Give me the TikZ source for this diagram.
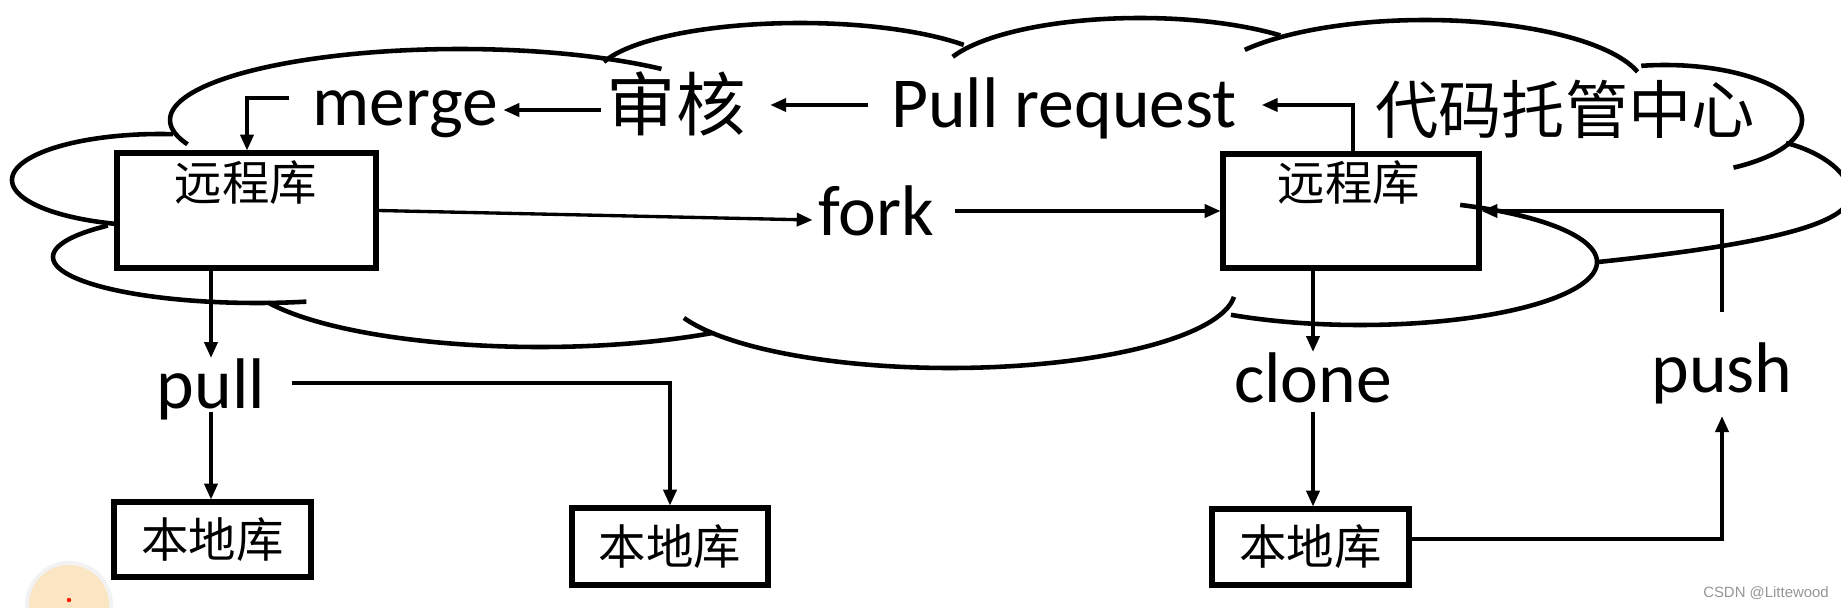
\documentclass[tikz,border=0pt]{standalone}
\usepackage{fontspec}
\usetikzlibrary{arrows.meta,calc}
\newfontfamily\calfont{Carlito}
\newfontfamily\cjkfont{Noto Sans CJK SC}
\newfontfamily\wmfont{Liberation Sans}
\definecolor{avatarfill}{RGB}{251,230,196}
\definecolor{avatarring}{RGB}{242,242,242}
\definecolor{wmgray}{RGB}{150,150,150}
\newcommand\cloudlobe[6]{\draw[cloudline] plot[domain=#5:#6,samples=90] ({#1+#3*cos(\x)},{#2-#4*sin(\x)});}
\begin{document}
\begin{tikzpicture}[x=0.02cm,y=-0.02cm,
  cloudline/.style={line width=2.6pt,black},
  boxbase/.style={draw,line width=2.9pt,fill=white,inner sep=0pt},
  arr/.style={line width=1.9pt,-{Triangle[length=9pt,width=7.5pt]}},
  lat/.style={font=\calfont\fontsize{40.8pt}{49pt}\selectfont,inner xsep=3pt,inner ysep=0pt},
  cjkA/.style={font=\cjkfont\fontsize{27pt}{32pt}\selectfont,inner xsep=3pt,inner ysep=0pt},
  cjkB/.style={font=\cjkfont\fontsize{39.5pt}{46pt}\selectfont,inner xsep=3pt,inner ysep=0pt},
  cjkC/.style={font=\cjkfont\fontsize{36pt}{42pt}\selectfont,inner xsep=3pt,inner ysep=0pt},
  wm/.style={font=\wmfont\fontsize{8.5pt}{10pt}\selectfont,text=wmgray,inner sep=0pt}]
\useasboundingbox (0,0) rectangle (1841,608);
\fill[white] (0,0) rectangle (1841,608);
\clip (0,0) rectangle (1841,608);

% cloud outline
\cloudlobe{460}{120}{290}{71}{46}{200}
\cloudlobe{800}{78}{205}{55}{37}{163}
\cloudlobe{1140}{80}{202}{62}{46}{158}
\cloudlobe{1425}{90}{220}{70}{15}{145}
\cloudlobe{1665}{120}{137}{55}{-60}{100}
\draw[cloudline] (1786,143) .. controls (1815,150) and (1850,170) .. (1850,195)
  .. controls (1850,225) and (1760,245) .. (1598,262);
\cloudlobe{950}{290}{285}{78}{-159}{-5}
\cloudlobe{540}{270}{300}{77}{-155}{-55}
\cloudlobe{257}{257}{204}{46}{137}{284}
\cloudlobe{160}{180}{148}{46}{85}{253}

% boxes
\node[boxbase,minimum width=5.18cm,minimum height=2.3cm] (rb1) at (246.5,210.5) {};
\node[boxbase,minimum width=5.12cm,minimum height=2.28cm] (rb2) at (1351,211) {};
\node[boxbase,minimum width=3.94cm,minimum height=1.5cm,font=\cjkfont\fontsize{27pt}{32pt}\selectfont] (lb1) at (212.5,539.5) {本地库};
\node[boxbase,minimum width=3.92cm,minimum height=1.54cm,font=\cjkfont\fontsize{27pt}{32pt}\selectfont] (lb2) at (670,546.5) {本地库};
\node[boxbase,minimum width=3.94cm,minimum height=1.52cm,font=\cjkfont\fontsize{27pt}{32pt}\selectfont] (lb3) at (1310.5,547) {本地库};

% cloud lobe crossing the right remote box
\cloudlobe{1360}{262}{237}{63}{-123}{65}

% texts
\node[cjkA] (rt1) at (246,183) {远程库};
\node[cjkA] (rt2) at (1349,183) {远程库};
\node[lat,anchor=base] (merge) at (405,125) {merge};
\node[cjkB] (shen) at (676,104) {审核};
\node[lat,anchor=base] (pr) at (1064,128) {Pull request};
\node[cjkC] (title) at (1565,109) {代码托管中心};
\node[lat,anchor=base] (fork) at (876,235) {fork};
\node[lat,anchor=base] (pull) at (211,408) {pull};
\node[lat,anchor=base] (clone) at (1313,402) {clone};
\node[lat,anchor=base] (push) at (1722,392) {push};
\node[wm] (wmark) at (1766,593) {CSDN @Littewood};

% avatar remnant
\fill[avatarring] (69,605) circle[radius=0.88cm];
\fill[avatarfill] (69,605) circle[radius=0.8cm];
\fill[red!80!orange] (69,600) circle[radius=0.045cm];

% coordinates
\coordinate (mx) at (247,0);
\coordinate (ms) at (289,98);
\coordinate (px1) at (1353,0);
\coordinate (ry1) at (0,110);
\coordinate (ry2) at (0,105);
\coordinate (ry3) at (0,220);
\coordinate (ry5) at (0,539);
\coordinate (ry6) at (0,383);

% connectors
\draw[arr] (ms) -| (mx |- rb1.north);
\draw[arr] (shen.west |- ry1) -- (merge.east |- ry1);
\draw[arr,shorten <=10pt,shorten >=11pt] (pr.west |- ry2) -- (shen.east |- ry2);
\draw[arr,shorten >=11pt] (px1 |- rb2.north) |- (pr.east |- ry2);
\draw[arr] (rb1.east) -- (fork.west |- ry3);
\draw[arr,shorten <=9pt] (fork.east |- rb2.west) -- (rb2.west);
\draw[arr,shorten <=17pt] (push.north) |- (rb2.east);
\draw[arr] (rb2.south -| clone) -- (clone.north);
\draw[arr] ([yshift=-5.7pt]clone.base) -- (clone.base |- lb3.north);
\draw[arr,shorten >=7pt] (lb3.east |- ry5) -| (push.south);
\draw[arr] (rb1.south -| pull) -- (pull.north);
\draw[arr] ([yshift=-2pt]pull.base) -- (pull.base |- lb1.north);
\draw[arr,shorten <=12pt] (pull.east |- ry6) -| (lb2.north);
\end{tikzpicture}
\end{document}
